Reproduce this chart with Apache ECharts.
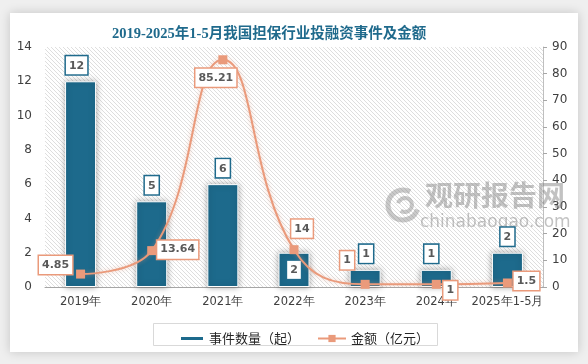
<!DOCTYPE html>
<html><head><meta charset="utf-8">
<script src="https://cdn.jsdelivr.net/npm/echarts@6/dist/echarts.min.js"></script>
<style>html,body{margin:0;padding:0;background:#efefef;}#c{width:588px;height:364px;}</style>
</head><body><div id="c"></div>
<script>
const categories = ['2019年','2020年','2021年','2022年','2023年','2024年','2025年1-5月'];
const eventCounts = [12, 5, 6, 2, 1, 1, 2];
const amounts = [4.85, 13.64, 85.21, 14, 1, 1, 1.5];
const leftAxisRange = [0, 14, 2];
const rightAxisRange = [0, 90, 10];
const seriesNames = ['事件数量（起）', '金额（亿元）'];
const titleText = '2019-2025年1-5月我国担保行业投融资事件及金额';

// label placement (style only)
const barLabelPlace = [[-4,0,'top'],[0,0,'top'],[0,0,'top'],[0,0,'inside'],[1,0,'top'],[-5,0,'top'],[0,0,'top']];
const lineLabelOffsets = [[-25,-9],[26,-1],[-7,18],[8,-21],[-18,-24],[14,6],[19,-2]];

const BLUE = '#1D6A8C', ORANGE = '#EA9A7B', TXT = '#404040';

// hatch pattern
const pc = document.createElement('canvas');
pc.width = 4; pc.height = 4;
const g = pc.getContext('2d');
g.fillStyle = '#ffffff'; g.fillRect(0,0,4,4);
g.strokeStyle = '#dedede'; g.lineWidth = 1;
g.beginPath(); g.moveTo(-1,-1); g.lineTo(5,5); g.moveTo(3,-1); g.lineTo(5,1); g.moveTo(-1,3); g.lineTo(1,5); g.stroke();

const chart = echarts.init(document.getElementById('c'));
const lblFont = {fontFamily:'DejaVu Sans', fontSize:11, fontWeight:'bold', color:'#595959', backgroundColor:'#fff', borderWidth:1.5, padding:[4,3,3,3]};

chart.setOption({
  backgroundColor: '#efefef',
  animation: false,
  title: {text: titleText, left: 107, top: 22,
    textStyle: {fontFamily: "'Liberation Serif','Noto Sans CJK SC',serif", fontSize: 14.5, fontWeight: 'bold', color: '#1F6A8C'}},
  graphic: [
    {type:'rect', z:-10, shape:{x:10,y:13,width:568,height:339}, style:{fill:'#fff', shadowBlur:10, shadowColor:'rgba(0,0,0,0.18)'}},
    {type:'rect', z:5, shape:{x:153.5,y:323.5,width:284,height:22}, style:{fill:'none', stroke:'#d9d9d9', lineWidth:1}},
    {type:'text', z:1, left:425, top:181, style:{text:'观研报告网', font:'bold 28px "Noto Sans CJK SC"', fill:'rgba(120,120,120,0.45)'}},
    {type:'text', z:1, left:420, top:214, style:{text:'chinabaogao.com', font:'17px "DejaVu Sans"', fill:'rgba(120,120,120,0.45)'}},
    {type:'arc', z:1, shape:{cx:403,cy:205,r:15,startAngle:0.3,endAngle:5.2}, style:{stroke:'rgba(120,120,120,0.4)', lineWidth:5, fill:'none'}},
    {type:'arc', z:1, shape:{cx:405,cy:205,r:7,startAngle:3.4,endAngle:8.5}, style:{stroke:'rgba(120,120,120,0.4)', lineWidth:4, fill:'none'}}
  ],
  legend: [
    {data:[{name:seriesNames[0], icon:'rect'}], left:174, top:327, itemWidth:24, itemHeight:5,
      textStyle:{fontFamily:'Noto Sans CJK SC', fontSize:13, color:'#262626'}},
    {data:[seriesNames[1]], left:312, top:327, itemWidth:28, itemHeight:9,
      textStyle:{fontFamily:'Noto Sans CJK SC', fontSize:13, color:'#262626'}}
  ],
  grid: {left:45, right:45, top:47, bottom:77, show:true, borderWidth:0,
    backgroundColor:{image: pc, repeat:'repeat'}},
  xAxis: {type:'category', data: categories,
    axisLine:{lineStyle:{color:'#a6a6a6'}}, axisTick:{show:false},
    axisLabel:{fontFamily:'DejaVu Sans', fontSize:11.5, color:TXT, margin:9, interval:0}},
  yAxis: [
    {type:'value', min:leftAxisRange[0], max:leftAxisRange[1], interval:leftAxisRange[2],
      splitLine:{show:false}, axisLine:{show:false}, axisTick:{show:false},
      axisLabel:{fontFamily:'DejaVu Sans', fontSize:12, color:TXT, margin:13}},
    {type:'value', min:rightAxisRange[0], max:rightAxisRange[1], interval:rightAxisRange[2],
      splitLine:{show:false}, axisLine:{show:true, lineStyle:{color:'#bfbfbf'}},
      axisTick:{show:true, length:4, lineStyle:{color:'#a6a6a6'}},
      axisLabel:{fontFamily:'DejaVu Sans', fontSize:12, color:TXT, margin:9}}
  ],
  series: [
    {name: seriesNames[0], type:'bar', barWidth:31, z:2,
      data: eventCounts.map((v,i)=>({value:v, label:{position:barLabelPlace[i][2], offset:[barLabelPlace[i][0],barLabelPlace[i][1]]}})),
      itemStyle:{color:BLUE, borderColor:'#fff', borderWidth:1, shadowBlur:6, shadowColor:'rgba(0,0,0,0.35)'},
      label:Object.assign({show:true, distance:7, borderColor:'#1F6A8C'}, lblFont)},
    {name: seriesNames[1], type:'line', yAxisIndex:1, smooth:0.45, z:3,
      symbol:'rect', symbolSize:9,
      data: amounts.map((v,i)=>({value:v, label:{offset:lineLabelOffsets[i]}})),
      lineStyle:{color:ORANGE, width:2, shadowBlur:4, shadowColor:'rgba(234,154,123,0.5)'},
      itemStyle:{color:ORANGE},
      label:Object.assign({show:true, position:'inside', borderColor:ORANGE}, lblFont)}
  ]
});
</script></body></html>
